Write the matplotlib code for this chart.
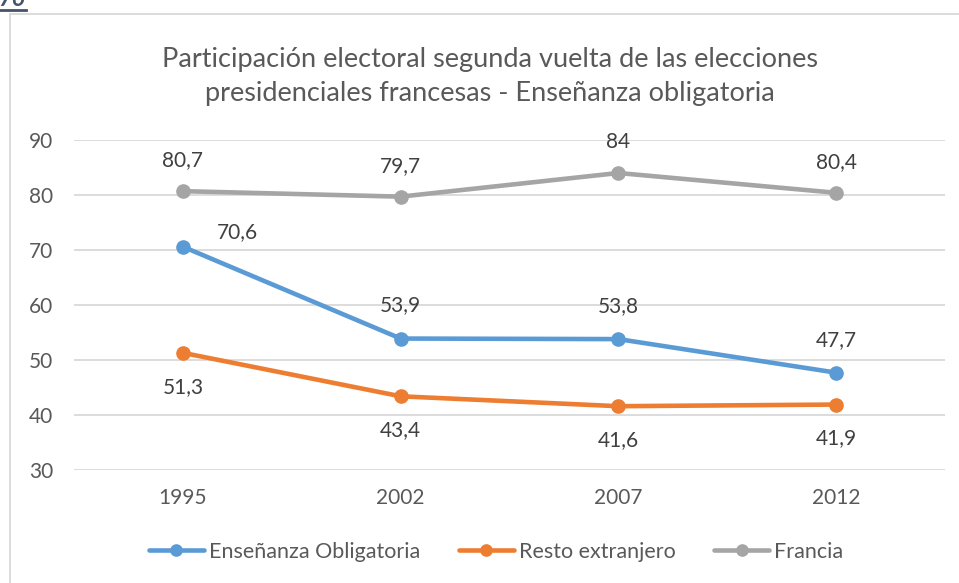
import matplotlib.pyplot as plt
from matplotlib.lines import Line2D

# data
years = ["1995", "2002", "2007", "2012"]
ensenanza = [70.6, 53.9, 53.8, 47.7]
resto = [51.3, 43.4, 41.6, 41.9]
francia = [80.7, 79.7, 84, 80.4]
series_names = ["Enseñanza Obligatoria", "Resto extranjero", "Francia"]
colors = ["#5b9bd5", "#ed7d31", "#a5a5a5"]

plt.rcParams['font.family'] = ['Lato', 'DejaVu Sans']

W, H = 959, 583
fig = plt.figure(figsize=(W / 100, H / 100), dpi=100)
ax = fig.add_axes([74 / W, 1 - 470 / H, (945 - 74) / W, (470 - 140) / H])

x = list(range(len(years)))
all_series = [ensenanza, resto, francia]
for vals, name, c in zip(all_series, series_names, colors):
    ax.plot(x, vals, color=c, lw=3.3, marker='o', ms=9.5, label=name,
            solid_capstyle='round', zorder=3)

# data labels: (dx, dy) in pixels
def lab(vals, offs):
    for i, v in enumerate(vals):
        s = ("%g" % v).replace(".", ",")
        ax.annotate(s, (i, v), xytext=offs[i], textcoords='offset pixels',
                    ha='center', va='center', fontsize=15, color='#404040')

lab(francia, [(0, 31)] * 4)
lab(ensenanza, [(55, 15), (0, 33), (0, 33), (0, 33)])
lab(resto, [(0, -34)] * 4)

ax.set_xlim(-0.5, 3.5)
ax.set_ylim(30, 90)
ax.set_yticks(range(30, 91, 10))
ax.set_xticks(x)
ax.set_xticklabels(years)
ax.grid(axis='y', color='#d9d9d9', lw=1.3)
ax.set_axisbelow(True)
for sp in ax.spines.values():
    sp.set_visible(False)
ax.tick_params(length=0, labelsize=15, labelcolor='#595959')
ax.tick_params(axis='x', pad=13)
ax.tick_params(axis='y', pad=15)

fig.text(490 / W, 1 - 76 / H,
         "Participación electoral segunda vuelta de las elecciones\n"
         "presidenciales francesas - Enseñanza obligatoria",
         ha='center', va='center', fontsize=19.5, color='#595959',
         linespacing=1.45)

leg = fig.legend(loc='center', bbox_to_anchor=(496 / W, 1 - 552 / H), ncol=3,
                 frameon=False, fontsize=15.5, handlelength=2.55,
                 handletextpad=0.23, columnspacing=1.8, markerscale=0.85)
for t in leg.get_texts():
    t.set_color('#595959')

# chart border (left and top) and the cut-off heading above it
fig.add_artist(Line2D([10 / W, 10 / W], [0, 1 - 14 / H], color='#d9d9d9', lw=1.3))
fig.add_artist(Line2D([10 / W, 1], [1 - 14 / H, 1 - 14 / H], color='#d9d9d9', lw=1.3))
fig.text(-2 / W, 1 - 6 / H, "76", ha='left', va='baseline', fontsize=17,
         fontweight='bold', fontstyle='italic', color='#44546a')
fig.add_artist(Line2D([0, 26 / W], [1 - 10 / H, 1 - 10 / H], color='#44546a', lw=2))

fig.savefig("out.png", dpi=100)
